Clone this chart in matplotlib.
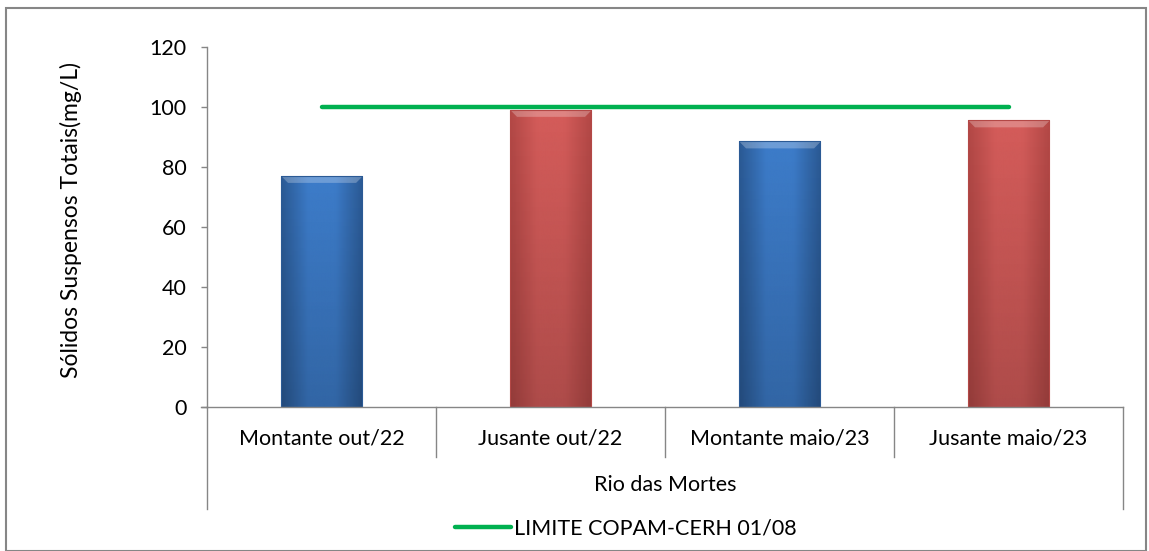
import numpy as np
import matplotlib.pyplot as plt
from matplotlib.lines import Line2D
from matplotlib.colors import LinearSegmentedColormap

categories = ['Montante out/22', 'Jusante out/22', 'Montante maio/23', 'Jusante maio/23']
group_label = 'Rio das Mortes'
sst = [77.0, 99.0, 88.5, 95.5]
limite = [100, 100, 100, 100]
limite_label = 'LIMITE COPAM-CERH 01/08'
ylabel = 'Sólidos Suspensos Totais(mg/L)'
yticks = [0, 20, 40, 60, 80, 100, 120]

plt.rcParams['font.family'] = ['Lato', 'DejaVu Sans']
FS = 15.5
GRAY = '#868686'

fig = plt.figure(figsize=(11.49, 5.51), dpi=100)
ax = fig.add_axes([0.1802, 0.2613, 0.9774 - 0.1802, 0.6540])

x = np.arange(len(categories))
width = 0.354
bar_cols = [('#2b5a95', '#3d7cc9'), ('#b34846', '#d45c5a')] * 2

bars = ax.bar(x, sst, width=width, color='none', edgecolor='none', zorder=2)
for b, (dark, light) in zip(bars, bar_cols):
    cmap = LinearSegmentedColormap.from_list('g', [dark, light, light, dark])
    grad = np.linspace(0, 1, 64).reshape(1, -1)
    x0, w, h = b.get_x(), b.get_width(), b.get_height()
    im = ax.imshow(grad, extent=[x0, x0 + w, 0, h], aspect='auto',
                   cmap=cmap, zorder=2, interpolation='bicubic')
    im.set_clip_path(b)
    # vertical shading: darker towards the base
    vcmap = LinearSegmentedColormap.from_list('v', [(0, 0, 0, 0.18), (0, 0, 0, 0.0)])
    vg = np.linspace(0, 1, 64).reshape(-1, 1)
    im2 = ax.imshow(vg, extent=[x0, x0 + w, 0, h], aspect='auto', origin='lower',
                    cmap=vcmap, zorder=2.1)
    im2.set_clip_path(b)
    # bevel on top
    ax.fill_between([x0, x0 + w * 0.08, x0 + w * 0.92, x0 + w], [h, h - 2.2, h - 2.2, h],
                    [h, h, h, h], color='white', alpha=0.25, lw=0, zorder=2.2)
    ax.plot([x0, x0, x0 + w, x0 + w], [0, h, h, 0], color=dark, lw=0.8, zorder=2.3)

ax.plot(x, limite, color='#00b050', lw=3.2, solid_capstyle='round', zorder=3)

ax.set_xlim(-0.5, len(categories) - 0.5)
ax.set_ylim(0, 120)
ax.set_yticks(yticks)
ax.tick_params(axis='y', labelsize=FS, length=4.5, color=GRAY, width=1, pad=10)
ax.set_xticks([])
for s in ['top', 'right']:
    ax.spines[s].set_visible(False)
for s in ['left', 'bottom']:
    ax.spines[s].set_color(GRAY)
    ax.spines[s].set_linewidth(1)
ax.set_ylabel(ylabel, fontsize=16.5)
ax.yaxis.set_label_coords(-0.136, 0.52)

# multi-level category axis
trans = ax.get_xaxis_transform()
ax.plot([-0.5 - 0.025, -0.5], [0, 0], transform=trans, color=GRAY, lw=1, clip_on=False)
for xi in [-0.5, len(categories) - 0.5]:
    ax.plot([xi, xi], [0, -0.284], transform=trans, color=GRAY, lw=1, clip_on=False)
for xi in x[:-1] + 0.5:
    ax.plot([xi, xi], [0, -0.14], transform=trans, color=GRAY, lw=1, clip_on=False)
for xi, lab in zip(x, categories):
    ax.text(xi, -0.088, lab, transform=trans, ha='center', va='center', fontsize=FS)
ax.text((len(categories) - 1) / 2, -0.216, group_label, transform=trans,
        ha='center', va='center', fontsize=FS)

handle = Line2D([], [], color='#00b050', lw=3.2, solid_capstyle='round')
fig.legend([handle], [limite_label], loc='center', bbox_to_anchor=(0.545, 0.040),
           frameon=False, fontsize=FS, handlelength=2.6, handletextpad=0.15)

# chart border
fig.add_artist(plt.Rectangle((6 / 1149, 0.5 / 551), 1140 / 1149, 543 / 551,
                             transform=fig.transFigure, fill=False,
                             edgecolor=GRAY, lw=1.5))

fig.savefig('out.png', dpi=100)
